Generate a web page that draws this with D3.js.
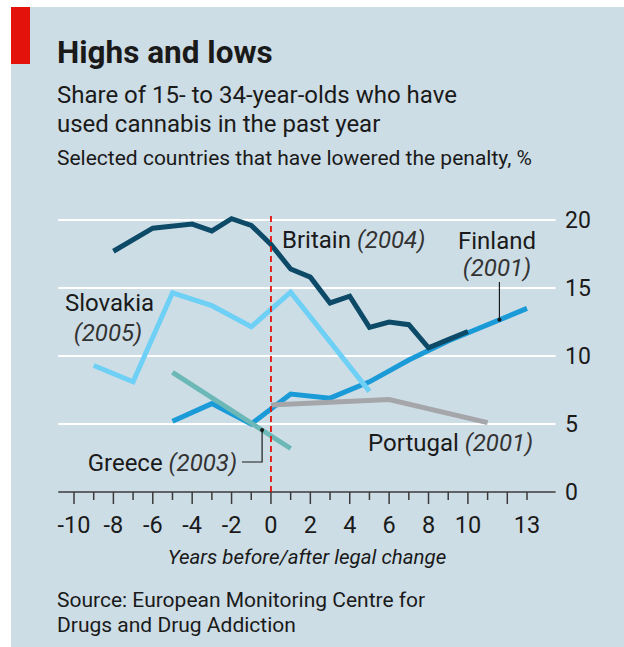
<!DOCTYPE html>
<html>
<head>
<meta charset="utf-8">
<script src="https://cdn.jsdelivr.net/npm/d3@7"></script>
<style>
  html, body { margin: 0; padding: 0; background: #ffffff; }
  svg { display: block; }
  text { font-family: Roboto, "Noto Sans", sans-serif; fill: #1a1a1a; }
</style>
</head>
<body>
<svg id="chart" width="624" height="647"></svg>
<script>
// ---- data ----
const years = [-10, -8, -6, -4, -2, 0, 2, 4, 6, 8, 10, 13];   // labelled x ticks
const yTicks = [0, 5, 10, 15, 20];

const britainYears = [-8, -6, -4, -3, -2, -1, 0, 1, 2, 3, 4, 5, 6, 7, 8, 9, 10];
const britainValues = [17.7, 19.4, 19.7, 19.2, 20.1, 19.6, 18.2, 16.4, 15.8, 13.9, 14.4, 12.1, 12.5, 12.3, 10.6, 11.2, 11.8];

const finlandYears = [-5, -3, -1, 1, 3, 5, 7, 9, 13];
const finlandValues = [5.2, 6.5, 5.0, 7.2, 6.9, 8.1, 9.7, 11.1, 13.5];

const slovakiaYears = [-9, -7, -5, -3, -1, 1, 5];
const slovakiaValues = [9.3, 8.1, 14.65, 13.7, 12.15, 14.7, 7.4];

const greeceYears = [-5, 1];
const greeceValues = [8.8, 3.2];

const portugalYears = [0, 6, 11];
const portugalValues = [6.4, 6.8, 5.1];

// ---- layout ----
const svg = d3.select("#chart");
const W = 624, H = 647;

svg.append("rect").attr("x", 11).attr("y", 7).attr("width", W - 11).attr("height", H - 7).attr("fill", "#cddde6");
svg.append("rect").attr("x", 11).attr("y", 7).attr("width", 19).attr("height", 57).attr("fill", "#e3120b");

const x = d3.scaleLinear().domain([-10, 13]).range([74, 527]);
const y = d3.scaleLinear().domain([0, 20]).range([492, 220]);
const xLeft = x(-10.8), xRight = x(14.45);

// titles
svg.append("text").attr("x", 57).attr("y", 63).attr("font-size", 31.5).attr("font-weight", "bold").text("Highs and lows");
svg.append("text").attr("x", 57).attr("y", 103).attr("font-size", 24).text("Share of 15- to 34-year-olds who have");
svg.append("text").attr("x", 57).attr("y", 132).attr("font-size", 24).text("used cannabis in the past year");
svg.append("text").attr("x", 57).attr("y", 165).attr("font-size", 21).text("Selected countries that have lowered the penalty, %");

// gridlines
const g = svg.append("g");
g.selectAll("line.grid").data(yTicks.filter(d => d > 0)).join("line")
  .attr("x1", xLeft).attr("x2", xRight)
  .attr("y1", d => y(d)).attr("y2", d => y(d))
  .attr("stroke", "#ffffff").attr("stroke-width", 2);

// y labels
g.selectAll("text.ylab").data(yTicks).join("text")
  .attr("x", 565).attr("y", d => y(d) + 8).attr("font-size", 23).text(d => d);

// x axis line and ticks
g.append("line").attr("x1", xLeft).attr("x2", xRight).attr("y1", y(0)).attr("y2", y(0))
  .attr("stroke", "#3a3a3a").attr("stroke-width", 1.5);
const allYears = d3.range(-10, 14);
g.selectAll("line.tick").data(allYears).join("line")
  .attr("x1", d => x(d)).attr("x2", d => x(d))
  .attr("y1", y(0)).attr("y2", d => y(0) + (d % 2 === 0 ? 12 : 8))
  .attr("stroke", "#3a3a3a").attr("stroke-width", 1.5);
g.selectAll("text.xlab").data(years).join("text")
  .attr("x", d => x(d)).attr("y", 533).attr("text-anchor", "middle").attr("font-size", 23.5)
  .text(d => d);

svg.append("text").attr("x", 307).attr("y", 564).attr("text-anchor", "middle")
  .attr("font-size", 20.5).attr("font-style", "italic").text("Years before/after legal change");

svg.append("text").attr("x", 57).attr("y", 607).attr("font-size", 21).text("Source: European Monitoring Centre for");
svg.append("text").attr("x", 57).attr("y", 632).attr("font-size", 21).text("Drugs and Drug Addiction");

// lines
const line = d3.line().x(d => x(d[0])).y(d => y(d[1]));
function series(yrs, vals, color) {
  svg.append("path").datum(d3.zip(yrs, vals)).attr("d", line)
    .attr("fill", "none").attr("stroke", color).attr("stroke-width", 5)
    .attr("stroke-linejoin", "miter");
}
series(finlandYears, finlandValues, "#1a9bd7");
series(portugalYears, portugalValues, "#a5a6aa");
series(greeceYears, greeceValues, "#6bb8b7");
series(slovakiaYears, slovakiaValues, "#6fd0f5");
series(britainYears, britainValues, "#0d4a68");

// red dashed line at 0
svg.append("line").attr("x1", x(0)).attr("x2", x(0)).attr("y1", 216).attr("y2", y(0))
  .attr("stroke", "#e3120b").attr("stroke-width", 1.8).attr("stroke-dasharray", "6,4");

// annotations
function label(xp, yp, main, ital, anchor) {
  const t = svg.append("text").attr("x", xp).attr("y", yp).attr("font-size", 24).attr("text-anchor", anchor || "start");
  if (main) t.append("tspan").text(main);
  if (ital) t.append("tspan").attr("font-style", "italic").attr("fill", "#333").text(ital);
  return t;
}
label(282, 248, "Britain ", "(2004)");
label(497, 249, "Finland", null, "middle");
label(497, 276, null, "(2001)", "middle");
label(65, 311, "Slovakia", null);
label(108, 341, null, "(2005)", "middle");
label(368, 451, "Portugal ", "(2001)");
label(237, 471, "Greece ", "(2003)", "end");

// leader lines
const finX = 11.6, finV = 11.1 + (13.5 - 11.1) * (finX - 9) / 4;
svg.append("line").attr("x1", x(finX)).attr("x2", x(finX)).attr("y1", y(finV)).attr("y2", 282)
  .attr("stroke", "#1a1a1a").attr("stroke-width", 1.2);
svg.append("circle").attr("cx", x(finX)).attr("cy", y(finV)).attr("r", 2).attr("fill", "#1a1a1a");

const grX = -0.45, grV = 8.8 + (3.2 - 8.8) * (grX + 5) / 6;
svg.append("path").attr("d", `M${x(grX)},${y(grV)} V462 H242`)
  .attr("fill", "none").attr("stroke", "#1a1a1a").attr("stroke-width", 1.2);
svg.append("circle").attr("cx", x(grX)).attr("cy", y(grV)).attr("r", 2).attr("fill", "#1a1a1a");
</script>
</body>
</html>
